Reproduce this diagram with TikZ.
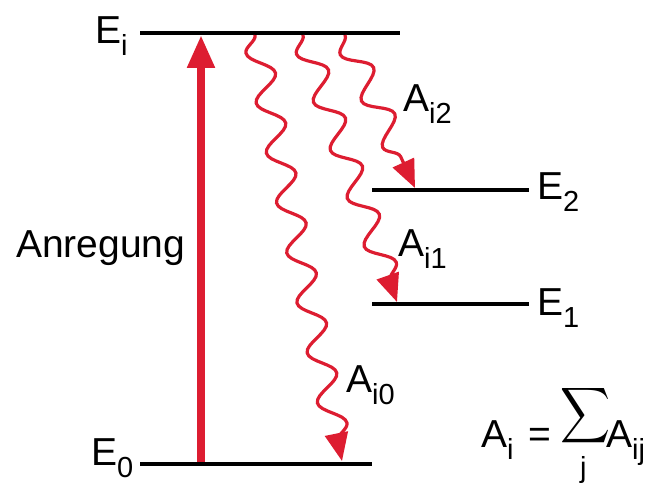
\documentclass[tikz,border=0pt]{standalone}
\usepackage{graphicx}
\usepackage{fontspec}
\setmainfont{Liberation Sans}
\usetikzlibrary{decorations.pathmorphing,arrows.meta}
\definecolor{rred}{RGB}{221,29,49}
\newcommand\lsub[1]{\raisebox{-12pt}{\fontsize{29}{29}\selectfont #1}}
\begin{document}
\begin{tikzpicture}[x=1pt,y=-1pt,
  level/.style={line width=4.5pt,black},
  lbl/.style={inner sep=0pt,anchor=base west,font=\fontsize{39}{46}\selectfont},
  wave/.style={rred,line width=3.2pt,decorate,
    decoration={snake,segment length=51pt,amplitude=12.5pt,mirror,post length=14pt},
    -{Triangle[length=28pt,width=23pt]}},
  excite/.style={rred,line width=8pt,-{Triangle[length=33pt,width=26pt]}}]
\useasboundingbox (0,0) rectangle (656,484);
% levels
\coordinate (Ei0) at (140,33); \coordinate (Ei1) at (400,33);
\coordinate (E2a) at (372,190); \coordinate (E2b) at (529,190);
\coordinate (E1a) at (372,304); \coordinate (E1b) at (529,304);
\coordinate (E0a) at (140,464); \coordinate (E0b) at (372,464);
\draw[level] (Ei0) -- (Ei1);
\draw[level] (E2a) -- (E2b);
\draw[level] (E1a) -- (E1b);
\draw[level] (E0a) -- (E0b);
% labels
\node[lbl] (lEi) at (95,44) {E\lsub{i}};
\node[lbl] (lE2) at (537,199) {E\lsub{2}};
\node[lbl] (lE1) at (537,315) {E\lsub{1}};
\node[lbl] (lE0) at (91,465) {E\lsub{0}};
% excitation
\coordinate (exS) at (201,462);
\coordinate (exE) at (201,35);
\draw[excite] (exS) -- (exE);
\node[lbl] (anr) at (16,257) {Anregung};
% spontaneous emission
\coordinate (w0s) at (255,35); \coordinate (w0e) at (342,461);
\coordinate (w1s) at (303,35); \coordinate (w1e) at (397,302);
\coordinate (w2s) at (345,35); \coordinate (w2e) at (415,188);
\draw[wave] (w0s) -- (w0e);
\draw[wave] (w1s) -- (w1e);
\draw[wave] (w2s) -- (w2e);
\node[lbl] (a2) at (403,112) {A\lsub{i2}};
\node[lbl] (a1) at (398,256) {A\lsub{i1}};
\node[lbl] (a0) at (346,392) {A\lsub{i0}};
% formula
\node[lbl] (f1) at (481,447) {A\lsub{i}};
\node[lbl] (feq) at (528,447) {=};
\node[inner sep=0pt,anchor=north] (sum) at (585,384) {\resizebox*{50pt}{62pt}{$\displaystyle\sum$}};
\node[lbl] (sj) at (580,477) {\fontsize{29}{29}\selectfont j};
\node[lbl] (f2) at (606,447) {A\lsub{ij}};
\end{tikzpicture}
\end{document}
